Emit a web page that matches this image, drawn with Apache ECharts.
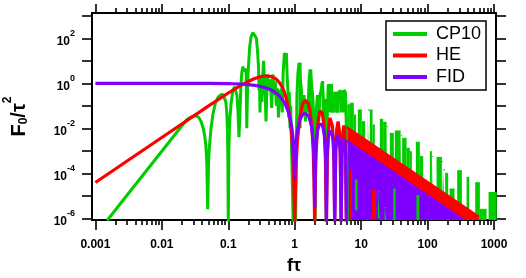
<!DOCTYPE html>
<html><head><meta charset="utf-8">
<script src="https://cdn.jsdelivr.net/npm/echarts@6/dist/echarts.min.js"></script>
<style>html,body{margin:0;padding:0;background:#fff}#c{width:526px;height:278px}</style>
</head><body><div id="c"></div>
<script>
const FONT = '"Liberation Sans", Arial, Helvetica, sans-serif';

// ---- axes / ticks ----
const xMin = 8.89e-4, xMax = 1072;
const yMin = 8.4e-7, yMax = 1330;
const xMajorTicks = [0.001, 0.01, 0.1, 1, 10, 100, 1000];
const xTickLabels = ['0.001', '0.01', '0.1', '1', '10', '100', '1000'];
const xMinorTicks = [0.002,0.003,0.004,0.005,0.006,0.007,0.008,0.009,
  0.02,0.03,0.04,0.05,0.06,0.07,0.08,0.09,
  0.2,0.3,0.4,0.5,0.6,0.7,0.8,0.9,
  2,3,4,5,6,7,8,9,
  20,30,40,50,60,70,80,90,
  200,300,400,500,600,700,800,900];
const yMajorTicks = [1e-6, 1e-5, 1e-4, 1e-3, 1e-2, 1e-1, 1, 10, 100, 1000];
const yLabelValues = [1e-6, 1e-4, 1e-2, 1, 100];
const yLabelExps = ['-6', '-4', '-2', '0', '2'];

const seriesNames = ['CP10', 'HE', 'FID'];
const seriesColors = ['#00cc00', '#ff0000', '#8000ff'];

// ---- CP10 (green) ----
const cp10Line = [
[0.0015,8e-7],[0.0235,0.0234],[0.027,0.031],[0.03,0.035],[0.033,0.035],[0.036,0.03],[0.039,0.02],[0.042,0.01],[0.044,0.005],[0.046,0.0017],[0.0475,3e-4],[0.049,2.5e-6],[0.0505,3e-4],[0.052,1.5e-3],[0.055,0.01],[0.059,0.045],[0.064,0.13],[0.07,0.24],[0.077,0.31],[0.083,0.32],[0.088,0.27],[0.092,0.15],[0.095,0.05],[0.097,0.01],[0.0985,1e-3],[0.1,5e-7],[0.102,1e-3],[0.105,0.02],[0.11,0.12],[0.117,0.45],[0.124,0.7],[0.13,0.65],[0.135,0.3],[0.14,0.06],[0.145,4e-3],[0.15,0.05],[0.155,0.8],[0.16,3],[0.166,5.5],[0.172,3.5],[0.18,4.5],[0.186,3],[0.19,0.01],[0.195,0.5],[0.2,4],[0.21,40],[0.22,115],[0.235,180],[0.25,170],[0.265,100],[0.275,30],[0.285,6],
[0.29,0.5],[0.295,2],[0.3,0.05],[0.31,1.2],[0.32,0.15],[0.33,2],[0.34,10],[0.35,1.5],[0.36,0.3],[0.37,0.02],[0.38,0.4],[0.39,2.5],[0.41,0.5],[0.43,1.5],[0.45,0.08],[0.47,2.5],[0.49,0.3],[0.51,1.2],[0.53,0.1],[0.55,0.6],[0.57,0.03],[0.59,0.5],[0.61,0.15],[0.63,0.6],[0.65,0.05],[0.67,3],[0.7,22],[0.73,15],[0.75,22],[0.77,2],[0.79,0.5],[0.81,0.03],[0.83,0.4],[0.85,0.01],[0.87,0.1],[0.9,1e-3],[0.95,5e-7],
[1.03,5e-7],[1.08,0.3],[1.12,3],[1.16,8],[1.22,7],[1.26,0.5],[1.3,0.05],[1.38,0.3],[1.45,0.02],[1.5,0.2],[1.58,0.05],[1.65,1.5],[1.72,4],[1.82,3.5],[1.88,0.2],[1.95,0.01],[2.02,5e-7],[2.1,0.05],[2.2,0.3],[2.3,0.02],[2.4,0.3],[2.5,0.5],[2.6,1.2],[2.7,1.1],[2.78,0.05],[2.9,0.2],[3.0,5e-7],[3.1,0.05],[3.2,0.9],[3.4,0.5],[3.55,0.9],[3.7,0.8],[3.8,0.05],[3.9,0.3],[4.0,0.4],[4.2,0.45],[4.4,0.05],[4.6,0.3],[4.8,0.5],[5.0,0.55],[5.2,0.1],[5.5,0.5],[5.8,0.4],[6.0,0.01],[6.2,5e-7]
];
// green bars: [from, to, top, bottom]
const cp10Bars = [
[1.14,1.27,7.8,0.01],[1.62,1.84,3.9,0.02],[2.55,2.78,1.2,0.02],[3.2,3.75,0.9,0.05],[4.0,4.5,0.41,0.05],[4.7,5.9,0.45,0.05],
[6.2,6.76,0.11,8.4e-7],[6.76,7.76,0.13,8.4e-7],[7.76,8.4,0.039,8.4e-7],[8.92,10.25,0.065,8.4e-7],[10.25,11.5,0.0197,8.4e-7],[12.6,13.5,0.065,8.4e-7],
[13.5,14.85,0.065,8.4e-7],[14.85,16.08,0.014,8.4e-7],[19.12,21.45,0.025,8.4e-7],[21.45,24.13,0.0185,8.4e-7],[24.13,25.5,0.0118,8.4e-7],
[27.06,31.08,6e-3,8.4e-7],[32.18,39.22,7.6e-3,8.4e-7],[39.22,41.45,5e-3,8.4e-7],[41.45,48.29,3.6e-3,8.4e-7],[48.29,54.13,1.3e-3,8.4e-7],[54.13,58.02,9.1e-4,8.4e-7],
[66.66,76.56,2.4e-3,8.4e-7],[76.56,85.86,5.5e-4,8.4e-7],[108.3,116.1,9.1e-4,8.4e-7],[116.1,121.4,5.5e-4,8.4e-7],
[136.6,164.2,5.1e-4,8.4e-7],[164.2,171.8,3.3e-4,8.4e-7],[171.8,184.1,1.4e-4,8.4e-7],[184.1,204.3,1e-4,8.4e-7],[215,255,2e-5,8.4e-7],
[279.1,328.6,1.3e-4,8.4e-7],[386.7,423.1,6.6e-5,8.4e-7],[521.2,613.4,3.8e-5,8.4e-7],[613.4,773.7,2.5e-6,8.4e-7],[829.3,1100,1.4e-5,8.4e-7]
];
// CP10 streaks seen through the FID band gaps: [from, to, top, bottom]
const cp10Streaks = [[8.1,8.8,5e-5,2.3e-6],[17.9,19.0,1.5e-5,1e-6],[22.6,23.9,3e-6,8.4e-7],[30.5,33,2e-5,8.4e-7],[68,75,1e-5,8.4e-7]];

// ---- HE (red) ----
const heLine = [
[0.001,3.9e-5],[0.01,3.9e-3],[0.05,0.097],[0.1,0.37],[0.15,0.77],[0.2,1.21],[0.25,1.62],[0.3,1.93],[0.35,2.1],[0.4,2.1],[0.45,1.95],[0.5,1.7],[0.55,1.35],[0.6,1.0],[0.65,0.68],[0.7,0.4],[0.75,0.2],[0.8,0.085],[0.85,0.027],[0.9,5e-3],[0.95,3e-4],[0.98,1e-5],[1.0,5e-7],
[1.02,1e-5],[1.05,2.2e-4],[1.1,3.1e-3],[1.2,0.034],[1.3,0.103],[1.4,0.17],[1.5,0.18],[1.6,0.13],[1.7,0.06],[1.8,0.015],[1.9,1e-3],[1.95,6.4e-5],[2.0,5e-7],
[2.05,5.8e-5],[2.1,8.4e-4],[2.2,0.01],[2.3,0.033],[2.4,0.058],[2.5,0.065],[2.6,0.049],[2.7,0.024],[2.8,6.2e-3],[2.9,4.4e-4],[3.0,5e-7],
[3.1,3.8e-4],[3.2,4.7e-3],[3.3,0.016],[3.4,0.029],[3.5,0.033],[3.6,0.026],[3.7,0.0127],[3.8,3.4e-3],[3.9,2.4e-4],[4.0,5e-7],
[4.15,1e-3],[4.3,9.4e-3],[4.5,0.02],[4.7,7.9e-3],[4.85,7.3e-4],[5.0,5e-7],
[5.15,6.5e-4],[5.3,6.2e-3],[5.5,0.0134],[5.7,5.3e-3],[5.85,5e-4],[6.0,5e-7]
];
const heBand = [[6,0.0113],[590,1.16e-6]];
// HE streaks seen through the FID band gaps: [from, to, top, bottom]
const heStreaks = [[6.8,7.3,1.4e-4,8.4e-7],[14.6,16.5,1.8e-5,8.4e-7]];

// ---- FID (purple) ----
const fidLine = [
[0.001,1],[0.01,1],[0.05,0.99],[0.1,0.97],[0.15,0.93],[0.2,0.88],[0.25,0.81],[0.3,0.74],[0.35,0.65],[0.4,0.57],[0.45,0.49],[0.5,0.41],[0.55,0.33],[0.6,0.26],[0.65,0.19],[0.7,0.14],[0.75,0.09],[0.8,0.055],[0.85,0.028],[0.9,0.012],[0.94,0.0043],[0.97,0.001],[1.0,5e-5],
[1.03,9e-4],[1.06,3.1e-3],[1.1,8e-3],[1.2,0.024],[1.3,0.039],[1.4,0.047],[1.5,0.045],[1.6,0.036],[1.7,0.023],[1.8,0.011],[1.9,2.7e-3],[1.95,6.5e-4],[2.0,3e-6],
[2.05,5.6e-4],[2.1,2.2e-3],[2.2,7.2e-3],[2.3,0.0125],[2.4,0.0159],[2.5,0.0162],[2.6,0.0136],[2.7,9.1e-3],[2.8,4.5e-3],[2.9,1.15e-3],[2.95,2.9e-4],[3.0,5e-7],
[3.05,2.6e-4],[3.1,1e-3],[3.2,3.4e-3],[3.3,6.1e-3],[3.4,7.9e-3],[3.5,8.3e-3],[3.6,7.1e-3],[3.7,4.8e-3],[3.8,2.4e-3],[3.9,6.4e-4],[4.0,5e-7],
[4.15,1.2e-3],[4.3,3.6e-3],[4.5,5e-3],[4.7,3e-3],[4.85,8.9e-4],[5.0,5e-7],
[5.15,7.9e-4],[5.3,2.4e-3],[5.5,3.35e-3],[5.7,2e-3],[5.85,6.1e-4],[6.0,5e-7]
];
const fidBand = [[6,2.8e-3],[335,9e-7]];

function nearestIdx(arr, v) {
  let best = 0, bd = Infinity;
  arr.forEach((a, i) => { const d = Math.abs(Math.log10(a) - Math.log10(v)); if (d < bd) { bd = d; best = i; } });
  return best;
}

const axisLineStyle = { color: '#000', width: 2 };
const tickStyle = { color: '#000', width: 1.6 };

function lineSeries(name, data, color, width) {
  return { name, type: 'line', data, symbol: 'none', showSymbol: false, clip: true,
    xAxisIndex: 0, yAxisIndex: 0, color,
    lineStyle: { color, width, join: 'bevel' }, emphasis: { disabled: true }, animation: false };
}
function areaSeries(name, data, color, origin, width) {
  return { name, type: 'line', data, symbol: 'none', showSymbol: false, clip: true,
    xAxisIndex: 0, yAxisIndex: 0, color,
    lineStyle: { color, width }, areaStyle: { color, opacity: 1, origin },
    emphasis: { disabled: true }, animation: false };
}
function barList(list, color, tag) {
  return list.map((b, i) => areaSeries(tag + i, [[b[0], b[2]], [b[1], b[2]]], color, b[3], 1));
}

const series = [lineSeries(seriesNames[0], cp10Line, seriesColors[0], 3)];
series.push(...barList(cp10Bars, seriesColors[0], 'CP10 bar '));
series.push(lineSeries(seriesNames[1], heLine, seriesColors[1], 3.2));
series.push(areaSeries('HE band', heBand, seriesColors[1], yMin, 2.5));
series.push(lineSeries(seriesNames[2], fidLine, seriesColors[2], 3.2));
series.push(areaSeries('FID band', fidBand, seriesColors[2], yMin, 2.5));
series.push(...barList(heStreaks, seriesColors[1], 'HE streak '));
series.push(...barList(cp10Streaks, seriesColors[0], 'CP10 streak '));

const chart = echarts.init(document.getElementById('c'), null, { renderer: 'canvas' });
chart.setOption({
  animation: false,
  backgroundColor: '#fff',
  grid: { left: 92, top: 13, width: 404, height: 207, containLabel: false, outerBoundsMode: 'none' },
  legend: {
    data: seriesNames, orient: 'vertical', left: 386, top: 21,
    backgroundColor: '#fff', borderColor: '#000', borderWidth: 1.5, borderRadius: 0,
    padding: [4, 5, 4, 7], itemWidth: 34, itemHeight: 4, itemGap: 3.5, icon: 'rect',
    selectedMode: false,
    textStyle: { fontFamily: FONT, fontSize: 18, color: '#000', lineHeight: 18, padding: [0, 0, 0, 4] }
  },
  xAxis: [
    { type: 'log', logBase: 10, position: 'bottom', min: xMin, max: xMax,
      axisLine: { show: true, lineStyle: axisLineStyle },
      axisTick: { show: true, inside: false, length: 10, lineStyle: tickStyle, customValues: xMajorTicks },
      axisLabel: { show: true, customValues: xMajorTicks, margin: 19, color: '#000', fontFamily: FONT, fontSize: 12, fontWeight: 'bold',
        formatter: v => xTickLabels[nearestIdx(xMajorTicks, v)] },
      splitLine: { show: false }, minorTick: { show: false },
      name: 'fτ', nameLocation: 'middle', nameGap: 37,
      nameTextStyle: { fontFamily: FONT, fontSize: 18, fontWeight: 'bold', color: '#000' } },
    { type: 'log', logBase: 10, position: 'bottom', min: xMin, max: xMax,
      axisLine: { show: false },
      axisTick: { show: true, inside: false, length: 5, lineStyle: tickStyle, customValues: xMinorTicks },
      axisLabel: { show: false }, splitLine: { show: false } },
    { type: 'log', logBase: 10, position: 'top', min: xMin, max: xMax,
      axisLine: { show: true, lineStyle: axisLineStyle },
      axisTick: { show: true, inside: false, length: 9, lineStyle: tickStyle, customValues: xMajorTicks },
      axisLabel: { show: false }, splitLine: { show: false } },
    { type: 'log', logBase: 10, position: 'top', min: xMin, max: xMax,
      axisLine: { show: false },
      axisTick: { show: true, inside: false, length: 5, lineStyle: tickStyle, customValues: xMinorTicks },
      axisLabel: { show: false }, splitLine: { show: false } }
  ],
  yAxis: [
    { type: 'log', logBase: 10, position: 'left', min: yMin, max: yMax,
      axisLine: { show: true, lineStyle: axisLineStyle },
      axisTick: { show: true, inside: false, length: 10, lineStyle: tickStyle, customValues: yMajorTicks },
      axisLabel: { show: true, customValues: yLabelValues, margin: 17, color: '#000',
        formatter: v => '{b|10}{s|' + yLabelExps[nearestIdx(yLabelValues, v)] + '}',
        rich: {
          b: { fontFamily: FONT, fontSize: 12, fontWeight: 'bold', color: '#000', lineHeight: 18, verticalAlign: 'bottom' },
          s: { fontFamily: FONT, fontSize: 9, fontWeight: 'bold', color: '#000', lineHeight: 9, verticalAlign: 'top' }
        } },
      splitLine: { show: false }, minorTick: { show: false },
      name: '{a|F}{sub|0}{a|/τ}{sup|2}', nameLocation: 'middle', nameGap: 56,
      nameTextStyle: { rich: {
        a: { fontFamily: FONT, fontSize: 20, fontWeight: 'bold', color: '#000', lineHeight: 34, verticalAlign: 'middle' },
        sub: { fontFamily: FONT, fontSize: 12, fontWeight: 'bold', color: '#000', lineHeight: 12, verticalAlign: 'bottom', padding: [0, 0, 6, 0] },
        sup: { fontFamily: FONT, fontSize: 12, fontWeight: 'bold', color: '#000', lineHeight: 12, verticalAlign: 'top' }
      } } },
    { type: 'log', logBase: 10, position: 'right', min: yMin, max: yMax,
      axisLine: { show: true, lineStyle: axisLineStyle },
      axisTick: { show: true, inside: false, length: 10, lineStyle: tickStyle, customValues: yMajorTicks },
      axisLabel: { show: false }, splitLine: { show: false } }
  ],
  series
});
</script>
</body></html>
